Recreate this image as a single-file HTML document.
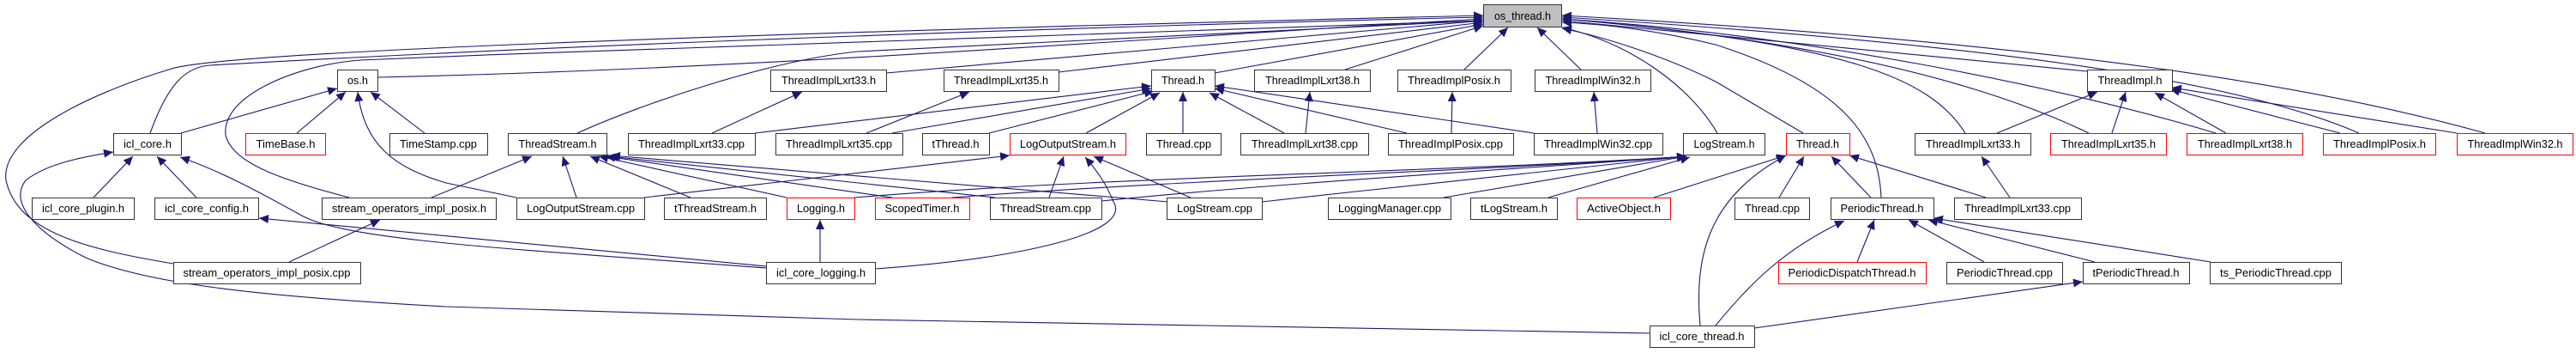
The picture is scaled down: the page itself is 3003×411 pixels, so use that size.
<!DOCTYPE html>
<html><head><meta charset="utf-8"><style>
html,body{margin:0;padding:0;background:#fff;}
svg{display:block;}
text{font-family:"Liberation Sans",sans-serif;font-size:12.5px;fill:#000;}
.e{fill:none;stroke:#191970;stroke-width:1.1;marker-end:url(#a);}
.n{fill:#fff;stroke:#333;stroke-width:1;}
.r{fill:#fff;stroke:#ff0000;stroke-width:1;}
</style></head><body>
<svg width="3003" height="411" viewBox="0 0 3003 411" xmlns="http://www.w3.org/2000/svg">
<defs><marker id="a" markerUnits="userSpaceOnUse" markerWidth="12" markerHeight="10" refX="11" refY="5" orient="auto"><path d="M0,0 L11,5 L0,10 z" fill="#191970"/></marker></defs>
<g>
<!-- edges to os_thread.h -->
<path class="e" d="M440,90 C900,80 1400,40 1729,22"/>
<path class="e" d="M175,155 C195,100 215,78 245,76 C700,50 1300,30 1729,20"/>
<path class="e" d="M202,307 C100,290 20,270 7,210 C0,160 100,110 200,80 C250,65 600,45 1729,18"/>
<path class="e" d="M407,230 C330,210 270,190 263,157 C258,110 350,75 420,70 C900,50 1400,32 1729,24"/>
<path class="e" d="M1033,85 L1729,24"/>
<path class="e" d="M1234,84 L1729,26"/>
<path class="e" d="M1416,85 L1729,28"/>
<path class="e" d="M1568,81 L1729,30"/>
<path class="e" d="M1707,81 L1758,32"/>
<path class="e" d="M1843,81 L1792,32"/>
<path class="e" d="M673,155 C750,120 900,70 1000,60 L1729,24"/>
<path class="e" d="M2002,155 C1970,100 1900,50 1821,32"/>
<path class="e" d="M2102,155 L2000,95 C1950,70 1880,45 1821,33"/>
<path class="e" d="M2193,230 C2190,160 2150,100 2000,52 C1930,35 1870,28 1821,26"/>
<path class="e" d="M2433,83 C2200,60 2000,40 1821,24"/>
<path class="e" d="M2291,155 C2250,90 2150,50 1821,22"/>
<path class="e" d="M2435,155 C2300,90 2100,45 1821,22"/>
<path class="e" d="M2583,155 C2400,100 2100,40 1821,22"/>
<path class="e" d="M2750,155 C2600,90 2300,50 1821,20"/>
<path class="e" d="M2897,155 C2700,100 2400,50 1821,18"/>
<!-- os.h -->
<path class="e" d="M211,155 L393,103"/>
<path class="e" d="M346,155 L403,107"/>
<path class="e" d="M495,155 L432,107"/>
<path class="e" d="M602,230 L520,213 C460,195 425,170 417,107"/>
<!-- icl_core.h -->
<path class="e" d="M109,230 L155,182"/>
<path class="e" d="M229,230 L183,182"/>
<path class="e" d="M893,312 C600,290 400,280 350,250 C310,228 260,200 210,183"/>
<path class="e" d="M1923,388 L1000,372 L520,357 C300,345 170,330 100,300 C40,270 10,235 30,210 C55,190 100,182 132,177"/>
<path class="e" d="M893,310 L302,254"/>
<path class="e" d="M337,305 L443,256"/>
<!-- ThreadStream.h -->
<path class="e" d="M503,230 L620,182"/>
<path class="e" d="M672,230 L656,182"/>
<path class="e" d="M805,230 L688,182"/>
<path class="e" d="M917,230 L698,182"/>
<path class="e" d="M1040,230 L706,182"/>
<path class="e" d="M1160,230 L710,182"/>
<path class="e" d="M1362,235 L712,181"/>
<!-- lxrt/thread -->
<path class="e" d="M830,155 L935,107"/>
<path class="e" d="M1010,155 L1130,107"/>
<path class="e" d="M880,155 L1342,100"/>
<path class="e" d="M1040,155 L1342,103"/>
<path class="e" d="M1153,155 L1345,106"/>
<path class="e" d="M1266,155 L1352,108"/>
<path class="e" d="M1379,155 L1379,107"/>
<path class="e" d="M1497,155 L1410,108"/>
<path class="e" d="M1640,155 L1416,103"/>
<path class="e" d="M1788,155 L1416,100"/>
<path class="e" d="M1522,155 L1527,107"/>
<path class="e" d="M1692,155 L1693,107"/>
<path class="e" d="M1862,155 L1858,107"/>
<!-- LogOutputStream.h -->
<path class="e" d="M751,230 L1177,181"/>
<path class="e" d="M1223,230 L1240,182"/>
<path class="e" d="M1388,230 L1275,182"/>
<path class="e" d="M1020,313 C1200,300 1320,270 1298,235 C1290,215 1280,200 1265,183"/>
<!-- LogStream.h -->
<path class="e" d="M996,230 C1300,205 1700,200 1966,182"/>
<path class="e" d="M1110,230 C1400,208 1750,198 1966,182"/>
<path class="e" d="M1284,234 C1500,212 1800,195 1966,182"/>
<path class="e" d="M1471,235 C1650,215 1850,195 1966,182"/>
<path class="e" d="M1683,230 L1966,182"/>
<path class="e" d="M1805,230 L1970,183"/>
<path class="e" d="M956,305 L956,256"/>
<!-- Thread.h red -->
<path class="e" d="M1928,230 L2000,207 L2082,181"/>
<path class="e" d="M1982,379 C1975,300 1990,230 2082,181"/>
<path class="e" d="M2074,230 L2103,182"/>
<path class="e" d="M2181,230 L2135,182"/>
<path class="e" d="M2315,230 L2156,181"/>
<path class="e" d="M2343,230 L2310,182"/>
<!-- ThreadImpl.h -->
<path class="e" d="M2328,155 L2445,107"/>
<path class="e" d="M2462,155 L2478,107"/>
<path class="e" d="M2595,155 L2512,108"/>
<path class="e" d="M2728,155 L2530,104"/>
<path class="e" d="M2864,155 L2532,102"/>
<!-- PeriodicThread.h -->
<path class="e" d="M2000,379 C2040,330 2080,290 2150,257"/>
<path class="e" d="M2165,305 L2185,256"/>
<path class="e" d="M2313,305 L2225,256"/>
<path class="e" d="M2442,305 L2248,256"/>
<path class="e" d="M2577,305 L2254,254"/>
<path class="e" d="M2045,382 L2428,328"/>
</g>
<g>
<rect x="1729.5" y="5.5" width="91" height="26" fill="#bfbfbf" stroke="#333"/>
<text x="1775" y="23" text-anchor="middle" textLength="66" lengthAdjust="spacingAndGlyphs">os_thread.h</text>

<rect class="n" x="393.5" y="81.5" width="47" height="25"/><text x="417" y="98" text-anchor="middle" textLength="24" lengthAdjust="spacingAndGlyphs">os.h</text>
<rect class="n" x="898.5" y="81.5" width="135" height="25"/><text x="966" y="98" text-anchor="middle" textLength="110" lengthAdjust="spacingAndGlyphs">ThreadImplLxrt33.h</text>
<rect class="n" x="1100.5" y="81.5" width="134" height="25"/><text x="1167" y="98" text-anchor="middle" textLength="110" lengthAdjust="spacingAndGlyphs">ThreadImplLxrt35.h</text>
<rect class="n" x="1342.5" y="81.5" width="74" height="25"/><text x="1379" y="98" text-anchor="middle" textLength="50" lengthAdjust="spacingAndGlyphs">Thread.h</text>
<rect class="n" x="1462.5" y="81.5" width="135" height="25"/><text x="1530" y="98" text-anchor="middle" textLength="110" lengthAdjust="spacingAndGlyphs">ThreadImplLxrt38.h</text>
<rect class="n" x="1629.5" y="81.5" width="132" height="25"/><text x="1695" y="98" text-anchor="middle" textLength="108" lengthAdjust="spacingAndGlyphs">ThreadImplPosix.h</text>
<rect class="n" x="1789.5" y="81.5" width="135" height="25"/><text x="1857" y="98" text-anchor="middle" textLength="111" lengthAdjust="spacingAndGlyphs">ThreadImplWin32.h</text>
<rect class="n" x="2433.5" y="81.5" width="99" height="25"/><text x="2483" y="98" text-anchor="middle" textLength="75" lengthAdjust="spacingAndGlyphs">ThreadImpl.h</text>

<rect class="n" x="132.5" y="155.5" width="79" height="25"/><text x="172" y="172" text-anchor="middle" textLength="56" lengthAdjust="spacingAndGlyphs">icl_core.h</text>
<rect class="r" x="286.5" y="155.5" width="93" height="25"/><text x="333" y="172" text-anchor="middle" textLength="69" lengthAdjust="spacingAndGlyphs">TimeBase.h</text>
<rect class="n" x="454.5" y="155.5" width="114" height="25"/><text x="511" y="172" text-anchor="middle" textLength="90" lengthAdjust="spacingAndGlyphs">TimeStamp.cpp</text>
<rect class="n" x="592.5" y="155.5" width="115" height="25"/><text x="650" y="172" text-anchor="middle" textLength="91" lengthAdjust="spacingAndGlyphs">ThreadStream.h</text>
<rect class="n" x="732.5" y="155.5" width="148" height="25"/><text x="806" y="172" text-anchor="middle" textLength="124" lengthAdjust="spacingAndGlyphs">ThreadImplLxrt33.cpp</text>
<rect class="n" x="904.5" y="155.5" width="148" height="25"/><text x="978" y="172" text-anchor="middle" textLength="124" lengthAdjust="spacingAndGlyphs">ThreadImplLxrt35.cpp</text>
<rect class="n" x="1075.5" y="155.5" width="78" height="25"/><text x="1114" y="172" text-anchor="middle" textLength="55" lengthAdjust="spacingAndGlyphs">tThread.h</text>
<rect class="r" x="1177.5" y="155.5" width="135" height="25"/><text x="1245" y="172" text-anchor="middle" textLength="112" lengthAdjust="spacingAndGlyphs">LogOutputStream.h</text>
<rect class="n" x="1336.5" y="155.5" width="87" height="25"/><text x="1380" y="172" text-anchor="middle" textLength="64" lengthAdjust="spacingAndGlyphs">Thread.cpp</text>
<rect class="n" x="1446.5" y="155.5" width="149" height="25"/><text x="1521" y="172" text-anchor="middle" textLength="124" lengthAdjust="spacingAndGlyphs">ThreadImplLxrt38.cpp</text>
<rect class="n" x="1618.5" y="155.5" width="146" height="25"/><text x="1691" y="172" text-anchor="middle" textLength="122" lengthAdjust="spacingAndGlyphs">ThreadImplPosix.cpp</text>
<rect class="n" x="1788.5" y="155.5" width="150" height="25"/><text x="1863" y="172" text-anchor="middle" textLength="126" lengthAdjust="spacingAndGlyphs">ThreadImplWin32.cpp</text>
<rect class="n" x="1962.5" y="155.5" width="95" height="25"/><text x="2010" y="172" text-anchor="middle" textLength="71" lengthAdjust="spacingAndGlyphs">LogStream.h</text>
<rect class="r" x="2082.5" y="155.5" width="74" height="25"/><text x="2119" y="172" text-anchor="middle" textLength="50" lengthAdjust="spacingAndGlyphs">Thread.h</text>
<rect class="n" x="2232.5" y="155.5" width="135" height="25"/><text x="2300" y="172" text-anchor="middle" textLength="110" lengthAdjust="spacingAndGlyphs">ThreadImplLxrt33.h</text>
<rect class="r" x="2390.5" y="155.5" width="135" height="25"/><text x="2458" y="172" text-anchor="middle" textLength="110" lengthAdjust="spacingAndGlyphs">ThreadImplLxrt35.h</text>
<rect class="r" x="2549.5" y="155.5" width="135" height="25"/><text x="2617" y="172" text-anchor="middle" textLength="110" lengthAdjust="spacingAndGlyphs">ThreadImplLxrt38.h</text>
<rect class="r" x="2708.5" y="155.5" width="131" height="25"/><text x="2774" y="172" text-anchor="middle" textLength="108" lengthAdjust="spacingAndGlyphs">ThreadImplPosix.h</text>
<rect class="r" x="2864.5" y="155.5" width="135" height="25"/><text x="2932" y="172" text-anchor="middle" textLength="111" lengthAdjust="spacingAndGlyphs">ThreadImplWin32.h</text>

<rect class="n" x="37.5" y="230.5" width="119" height="25"/><text x="97" y="247" text-anchor="middle" textLength="96" lengthAdjust="spacingAndGlyphs">icl_core_plugin.h</text>
<rect class="n" x="180.5" y="230.5" width="121" height="25"/><text x="241" y="247" text-anchor="middle" textLength="98" lengthAdjust="spacingAndGlyphs">icl_core_config.h</text>
<rect class="n" x="375.5" y="230.5" width="203" height="25"/><text x="477" y="247" text-anchor="middle" textLength="180" lengthAdjust="spacingAndGlyphs">stream_operators_impl_posix.h</text>
<rect class="n" x="602.5" y="230.5" width="149" height="25"/><text x="677" y="247" text-anchor="middle" textLength="126" lengthAdjust="spacingAndGlyphs">LogOutputStream.cpp</text>
<rect class="n" x="774.5" y="230.5" width="119" height="25"/><text x="834" y="247" text-anchor="middle" textLength="96" lengthAdjust="spacingAndGlyphs">tThreadStream.h</text>
<rect class="r" x="917.5" y="230.5" width="79" height="25"/><text x="957" y="247" text-anchor="middle" textLength="56" lengthAdjust="spacingAndGlyphs">Logging.h</text>
<rect class="r" x="1020.5" y="230.5" width="110" height="25"/><text x="1075" y="247" text-anchor="middle" textLength="87" lengthAdjust="spacingAndGlyphs">ScopedTimer.h</text>
<rect class="n" x="1154.5" y="230.5" width="130" height="25"/><text x="1219" y="247" text-anchor="middle" textLength="106" lengthAdjust="spacingAndGlyphs">ThreadStream.cpp</text>
<rect class="n" x="1360.5" y="230.5" width="111" height="25"/><text x="1416" y="247" text-anchor="middle" textLength="88" lengthAdjust="spacingAndGlyphs">LogStream.cpp</text>
<rect class="n" x="1548.5" y="230.5" width="143" height="25"/><text x="1620" y="247" text-anchor="middle" textLength="120" lengthAdjust="spacingAndGlyphs">LoggingManager.cpp</text>
<rect class="n" x="1714.5" y="230.5" width="101" height="25"/><text x="1765" y="247" text-anchor="middle" textLength="78" lengthAdjust="spacingAndGlyphs">tLogStream.h</text>
<rect class="r" x="1838.5" y="230.5" width="109" height="25"/><text x="1893" y="247" text-anchor="middle" textLength="86" lengthAdjust="spacingAndGlyphs">ActiveObject.h</text>
<rect class="n" x="2022.5" y="230.5" width="87" height="25"/><text x="2066" y="247" text-anchor="middle" textLength="64" lengthAdjust="spacingAndGlyphs">Thread.cpp</text>
<rect class="n" x="2134.5" y="230.5" width="120" height="25"/><text x="2194" y="247" text-anchor="middle" textLength="97" lengthAdjust="spacingAndGlyphs">PeriodicThread.h</text>
<rect class="n" x="2278.5" y="230.5" width="148" height="25"/><text x="2352" y="247" text-anchor="middle" textLength="124" lengthAdjust="spacingAndGlyphs">ThreadImplLxrt33.cpp</text>

<rect class="n" x="202.5" y="305.5" width="218" height="25"/><text x="311" y="322" text-anchor="middle" textLength="195" lengthAdjust="spacingAndGlyphs">stream_operators_impl_posix.cpp</text>
<rect class="n" x="893.5" y="305.5" width="127" height="25"/><text x="957" y="322" text-anchor="middle" textLength="104" lengthAdjust="spacingAndGlyphs">icl_core_logging.h</text>
<rect class="r" x="2073.5" y="305.5" width="172" height="25"/><text x="2159" y="322" text-anchor="middle" textLength="149" lengthAdjust="spacingAndGlyphs">PeriodicDispatchThread.h</text>
<rect class="n" x="2269.5" y="305.5" width="135" height="25"/><text x="2337" y="322" text-anchor="middle" textLength="112" lengthAdjust="spacingAndGlyphs">PeriodicThread.cpp</text>
<rect class="n" x="2428.5" y="305.5" width="124" height="25"/><text x="2490" y="322" text-anchor="middle" textLength="101" lengthAdjust="spacingAndGlyphs">tPeriodicThread.h</text>
<rect class="n" x="2576.5" y="305.5" width="153" height="25"/><text x="2653" y="322" text-anchor="middle" textLength="130" lengthAdjust="spacingAndGlyphs">ts_PeriodicThread.cpp</text>

<rect class="n" x="1923.5" y="379.5" width="122" height="25"/><text x="1984" y="396" text-anchor="middle" textLength="99" lengthAdjust="spacingAndGlyphs">icl_core_thread.h</text>
</g>
</svg>
</body></html>
